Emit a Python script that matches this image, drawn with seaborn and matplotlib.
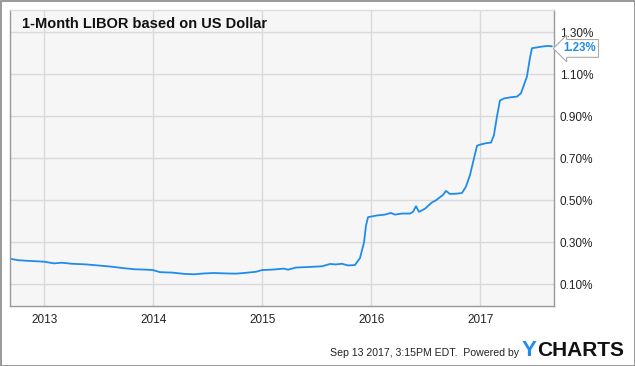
import matplotlib
matplotlib.use("Agg")
import matplotlib.pyplot as plt
import matplotlib.transforms as mtransforms
from matplotlib.patches import Rectangle
import seaborn as sns
import pandas as pd

# ---- data (decimal years, percent) ----
years = [2012.685, 2012.759, 2012.850, 2012.924, 2012.997, 2013.089, 2013.162, 2013.254,
         2013.383, 2013.493, 2013.603, 2013.713, 2013.823, 2013.933, 2013.997, 2014.061,
         2014.172, 2014.282, 2014.374, 2014.465, 2014.557, 2014.667, 2014.759, 2014.851,
         2014.942, 2014.997, 2015.089, 2015.199, 2015.235, 2015.309, 2015.438, 2015.548,
         2015.621, 2015.676, 2015.731, 2015.786, 2015.850, 2015.896, 2015.933, 2015.951,
         2015.970, 2016.052, 2016.125, 2016.180, 2016.217, 2016.282, 2016.355, 2016.382,
         2016.410, 2016.437, 2016.492, 2016.556, 2016.593, 2016.630, 2016.657, 2016.685,
         2016.722, 2016.786, 2016.832, 2016.868, 2016.905, 2016.942, 2016.970, 2016.997,
         2017.052, 2017.098, 2017.125, 2017.153, 2017.180, 2017.217, 2017.272, 2017.337,
         2017.373, 2017.401, 2017.428, 2017.456, 2017.474, 2017.520, 2017.566, 2017.621,
         2017.657]
libor = [0.222, 0.215, 0.212, 0.210, 0.208, 0.200, 0.203, 0.198,
         0.195, 0.190, 0.185, 0.178, 0.172, 0.170, 0.168, 0.158,
         0.156, 0.150, 0.148, 0.152, 0.154, 0.152, 0.151, 0.155,
         0.160, 0.168, 0.170, 0.175, 0.170, 0.180, 0.183, 0.186,
         0.197, 0.195, 0.198, 0.190, 0.192, 0.225, 0.300, 0.380,
         0.420, 0.428, 0.432, 0.440, 0.432, 0.437, 0.437, 0.445,
         0.472, 0.445, 0.460, 0.490, 0.500, 0.515, 0.525, 0.545,
         0.530, 0.532, 0.535, 0.565, 0.620, 0.700, 0.760, 0.765,
         0.772, 0.775, 0.810, 0.900, 0.975, 0.985, 0.990, 0.994,
         1.010, 1.050, 1.090, 1.180, 1.224, 1.228, 1.232, 1.235,
         1.233]
x_ticks = [2013, 2014, 2015, 2016, 2017]
x_tick_labels = ["2013", "2014", "2015", "2016", "2017"]
y_ticks = [0.10, 0.30, 0.50, 0.70, 0.90, 1.10, 1.30]
y_tick_labels = ["0.10%", "0.30%", "0.50%", "0.70%", "0.90%", "1.10%", "1.30%"]
title = "1-Month LIBOR based on US Dollar"
footer = "Sep 13 2017, 3:15PM EDT.  Powered by"

df = pd.DataFrame({"year": years, "libor": libor})

sns.set_theme(style="whitegrid")
plt.rcParams["font.family"] = ["Liberation Sans", "DejaVu Sans"]

W, H = 635, 366
fig = plt.figure(figsize=(W / 100, H / 100), dpi=100)
fig.patch.set_facecolor("white")
ax = fig.add_axes([10 / W, 60 / H, 544 / W, 296 / H])
ax.set_facecolor("#f6f6f6")

line_color = "#1f8ceb"
sns.lineplot(data=df, x="year", y="libor", ax=ax, color=line_color, linewidth=1.3)

ax.set_xlim(2012.685, 2017.676)
ax.set_ylim(-0.003, 1.406)
ax.set_xticks(x_ticks)
ax.set_xticklabels(x_tick_labels)
ax.set_yticks(y_ticks)
ax.set_yticklabels(y_tick_labels)
ax.yaxis.tick_right()
ax.tick_params(axis="both", length=0, labelsize=8.5, labelcolor="#222222")
ax.tick_params(axis="x", pad=6)
ax.tick_params(axis="y", pad=4)
ax.set_xlabel("")
ax.set_ylabel("")
ax.grid(True, color="#d9d9d9", linewidth=1.0)
for side in ["left", "bottom", "right", "top"]:
    ax.spines[side].set_visible(True)
    ax.spines[side].set_color("#999999")
    ax.spines[side].set_linewidth(1.0)
ax.spines["top"].set_color("#dddddd")

ax.text(12 / 544, 1 - 14 / 296, title, transform=ax.transAxes, fontsize=10.5,
        fontweight="bold", color="#111111", ha="left", va="center")

# last value label
trans = mtransforms.blended_transform_factory(ax.transAxes, ax.transData)
ax.text(1.0 + 9 / 544, libor[-1] - 0.01, f"{libor[-1]:.2f}%", transform=trans,
        fontsize=8.3, fontweight="bold", color=line_color, ha="left", va="center",
        bbox=dict(boxstyle="larrow,pad=0.25", facecolor="white", edgecolor="#aaaaaa",
                  linewidth=0.8), clip_on=False)

# footer
fig.text(519 / W, 1 - 353 / H, footer, fontsize=7.6, color="#222222",
         ha="right", va="center")
fig.text(522 / W, 1 - 350 / H, "Y", fontsize=16, fontweight="bold",
         color="#1f8ceb", ha="left", va="center")
fig.text(537 / W, 1 - 350 / H, "CHARTS", fontsize=15, fontweight="bold",
         color="#111111", ha="left", va="center")

# outer border
fig.add_artist(Rectangle((0.5 / W, 0.5 / H), 1 - 1 / W, 1 - 1 / H, transform=fig.transFigure,
                         fill=False, edgecolor="#888888", linewidth=1.2))

fig.savefig("out.png", dpi=100)
